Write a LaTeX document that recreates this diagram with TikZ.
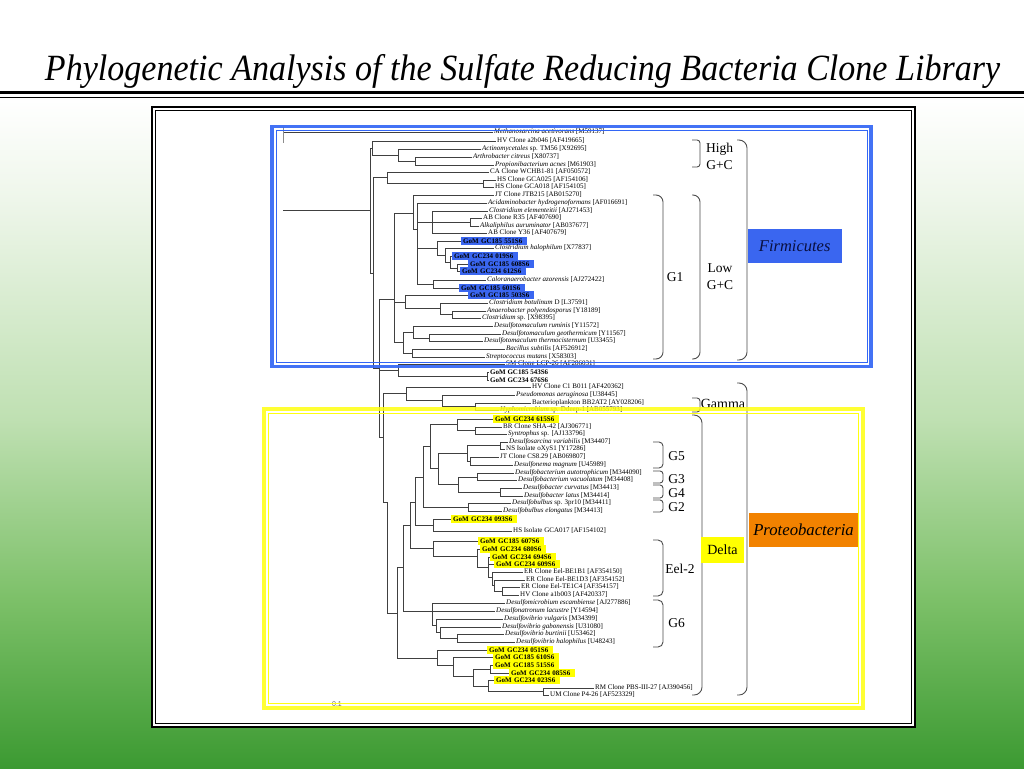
\documentclass[tikz,border=0pt]{standalone}
\usepackage{fontspec}
\usepackage{graphicx}
\setmainfont{Liberation Serif}
\setsansfont{Liberation Sans}
\usetikzlibrary{positioning}

\definecolor{bgA}{HTML}{EEF6EA}
\definecolor{bgB}{HTML}{BFE0B2}
\definecolor{bgC}{HTML}{7CC068}
\definecolor{bgbot}{HTML}{3C9A32}
\definecolor{rectblue}{HTML}{3366F5}
\definecolor{hlblue}{HTML}{3A66F0}
\definecolor{hlyellow}{HTML}{FFFF00}
\definecolor{rectyellow}{HTML}{FFFF10}
\definecolor{proorange}{HTML}{F28200}
\definecolor{navy}{HTML}{0A1040}

\pgfdeclareverticalshading{slidebg}{100bp}{color(0bp)=(bgbot); color(25bp)=(bgbot);
  color(35.9bp)=(bgC); color(47.7bp)=(bgB); color(62bp)=(bgA); color(68.5bp)=(white); color(100bp)=(white)}

\tikzset{
  branch/.style={draw=black!75, line width=0.5pt},
  leaf/.style={anchor=west, inner xsep=1pt, inner ysep=0.5pt, font=\fontsize{7}{8}\selectfont},
  gom/.style={leaf, font=\fontsize{7}{8}\selectfont\bfseries},
  gomblue/.style={gom, fill=hlblue, text width=62pt, inner xsep=2pt, inner ysep=0pt, minimum height=7.8pt},
  gomyel/.style={gom, fill=hlyellow, text width=62pt, inner xsep=2pt, inner ysep=0pt, minimum height=7.8pt},
  brk/.style={draw=black!70, line width=0.9pt},
  grp/.style={font=\fontsize{13.5}{16.5}\selectfont, align=center, inner sep=0pt},
}

\begin{document}
\begin{tikzpicture}[x=1pt,y=-1pt]
\useasboundingbox (0,0) rectangle (1024,768);
\shade[shading=slidebg] (0,0) rectangle (1024,768);

% title and rule
\node[font=\fontsize{37}{40}\selectfont\itshape, anchor=base, inner sep=0pt] (title) at (522.5,80)
  {\resizebox{955pt}{\height}{Phylogenetic Analysis of the Sulfate Reducing Bacteria Clone Library}};
\draw[line width=3pt] (0,92.5) -- (1024,92.5);
\draw[line width=1pt] (0,97) -- (1024,97);

% panel
\draw[line width=1.6pt, fill=white] (152,107) rectangle (915,727);
\draw[line width=0.5pt] (155.5,110.5) rectangle (911.5,723.5);

% leaves
\node[leaf] (l1) at (493,132) {\textit{Methanosarcina acetivorans} [M59137]};
\node[leaf] (l2) at (496,141) {HV Clone a2b046 [AF419665]};
\node[leaf] (l3) at (481,149) {\textit{Actinomycetales} sp. TM56 [X92695]};
\node[leaf] (l4) at (472,157) {\textit{Arthrobacter citreus} [X80737]};
\node[leaf] (l5) at (494,165) {\textit{Propionibacterium acnes} [M61903]};
\node[leaf] (l6) at (489,172) {CA Clone WCHB1-81 [AF050572]};
\node[leaf] (l7) at (496,180) {HS Clone GCA025 [AF154106]};
\node[leaf] (l8) at (494,187) {HS Clone GCA018 [AF154105]};
\node[leaf] (l9) at (494,195) {JT Clone JTB215 [AB015270]};
\node[leaf] (l10) at (487,203) {\textit{Acidaminobacter hydrogenoformans} [AF016691]};
\node[leaf] (l11) at (488,211) {\textit{Clostridium elementeitii} [AJ271453]};
\node[leaf] (l12) at (482,218) {AB Clone R35 [AF407690]};
\node[leaf] (l13) at (479,226) {\textit{Alkaliphilus auruminator} [AB037677]};
\node[leaf] (l14) at (487,233) {AB Clone Y36 [AF407679]};
\node[gomblue] (l15) at (461,241) {GoM GC185 551S6};
\node[leaf] (l16) at (494,248) {\textit{Clostridium halophilum} [X77837]};
\node[gomblue] (l17) at (452,256) {GoM GC234 019S6};
\node[gomblue] (l18) at (468,264) {GoM GC185 608S6};
\node[gomblue] (l19) at (460,271) {GoM GC234 612S6};
\node[leaf] (l20) at (486,280) {\textit{Caloranaerobacter azorensis} [AJ272422]};
\node[gomblue] (l21) at (459,288) {GoM GC185 601S6};
\node[gomblue] (l22) at (468,295) {GoM GC185 503S6};
\node[leaf] (l23) at (488,303) {\textit{Clostridium botulinum} D [L37591]};
\node[leaf] (l24) at (486,311) {\textit{Anaerobacter polyendosporus} [Y18189]};
\node[leaf] (l25) at (481,318) {\textit{Clostridium} sp. [X98395]};
\node[leaf] (l26) at (493,326) {\textit{Desulfotomaculum ruminis} [Y11572]};
\node[leaf] (l27) at (501,334) {\textit{Desulfotomaculum geothermicum} [Y11567]};
\node[leaf] (l28) at (483,341) {\textit{Desulfotomaculum thermocisternum} [U33455]};
\node[leaf] (l29) at (505,349) {\textit{Bacillus subtilis} [AF526912]};
\node[leaf] (l30) at (485,357) {\textit{Streptococcus mutans} [X58303]};
\node[leaf] (l31) at (505,364) {SM Clone LCP-26 [AF286031]};
\node[gom] (l32) at (489,372) {GoM GC185 543S6};
\node[gom] (l33) at (489,380) {GoM GC234 676S6};
\node[leaf] (l34) at (531,387) {HV Clone C1 B011 [AF420362]};
\node[leaf] (l35) at (515,395) {\textit{Pseudomonas aeruginosa} [U38445]};
\node[leaf] (l36) at (531,403) {Bacterioplankton BB2AT2 [AY028206]};
\node[leaf] (l37) at (499,410) {\textit{Hyphomicrobium} sp. Ddeep-1 [AB055793]};
\node[gomyel] (l38) at (493,419) {GoM GC234 615S6};
\node[leaf] (l39) at (502,427) {BR Clone SHA-42 [AJ306771]};
\node[leaf] (l40) at (507,434) {\textit{Syntrophus} sp. [AJ133796]};
\node[leaf] (l41) at (508,442) {\textit{Desulfosarcina variabilis} [M34407]};
\node[leaf] (l42) at (505,449) {NS Isolate oXyS1 [Y17286]};
\node[leaf] (l43) at (499,457) {JT Clone CS8.29 [AB069807]};
\node[leaf] (l44) at (513,465) {\textit{Desulfonema magnum} [U45989]};
\node[leaf] (l45) at (514,473) {\textit{Desulfobacterium autotrophicum} [M344090]};
\node[leaf] (l46) at (517,480) {\textit{Desulfobacterium vacuolatum} [M34408]};
\node[leaf] (l47) at (522,488) {\textit{Desulfobacter curvatus} [M34413]};
\node[leaf] (l48) at (523,496) {\textit{Desulfobacter latus} [M34414]};
\node[leaf] (l49) at (511,503) {\textit{Desulfobulbus} sp. 3pr10 [M34411]};
\node[leaf] (l50) at (502,511) {\textit{Desulfobulbus elongatus} [M34413]};
\node[gomyel] (l51) at (451,519) {GoM GC234 093S6};
\node[leaf] (l52) at (512,531) {HS Isolate GCA017 [AF154102]};
\node[gomyel] (l53) at (478,541) {GoM GC185 607S6};
\node[gomyel] (l54) at (480,549) {GoM GC234 680S6};
\node[gomyel] (l55) at (490,557) {GoM GC234 694S6};
\node[gomyel] (l56) at (494,564) {GoM GC234 609S6};
\node[leaf] (l57) at (523,572) {ER Clone Eel-BE1B1 [AF354150]};
\node[leaf] (l58) at (525,580) {ER Clone Eel-BE1D3 [AF354152]};
\node[leaf] (l59) at (520,587) {ER Clone Eel-TE1C4 [AF354157]};
\node[leaf] (l60) at (519,595) {HV Clone a1b003 [AF420337]};
\node[leaf] (l61) at (505,603) {\textit{Desulfomicrobium escambiense} [AJ277886]};
\node[leaf] (l62) at (495,611) {\textit{Desulfonatronum lacustre} [Y14594]};
\node[leaf] (l63) at (503,619) {\textit{Desulfovibrio vulgaris} [M34399]};
\node[leaf] (l64) at (501,627) {\textit{Desulfovibrio gabonensis} [U31080]};
\node[leaf] (l65) at (504,634) {\textit{Desulfovibrio burtinii} [U53462]};
\node[leaf] (l66) at (515,642) {\textit{Desulfovibrio halophilus} [U48243]};
\node[gomyel] (l67) at (487,650) {GoM GC234 051S6};
\node[gomyel] (l68) at (493,657) {GoM GC185 610S6};
\node[gomyel] (l69) at (493,665) {GoM GC185 515S6};
\node[gomyel] (l70) at (509,673) {GoM GC234 085S6};
\node[gomyel] (l71) at (494,680) {GoM GC234 023S6};
\node[leaf] (l72) at (594,688) {RM Clone PBS-III-27 [AJ390456]};
\node[leaf] (l73) at (549,695) {UM Clone P4-26 [AF523329]};

% inner nodes of the tree
\foreach \n/\x/\y in {root/283/210, out/283/132, tickt/283/127, tickb/283/143,
  R1/370/210, nC/372/148, nB/398/155, nA/415/161, R2/373/273, nE/387/177, nD/483/183,
  nZ/379/368, nR/394/299, nF/413/213, nG/417/229, nJ/432/222, nK/470/222,
  nM/437/248, nN/445/255, nO/450/262, nP/457/268, nQ/433/284,
  nS/405/302, nU/440/308, nV/452/314, nT/403/342, nW/413/332, nX/429/338, nY/412/353,
  nSM/398/370, nAA/487/376, nP1/383/437, nG1/406/393, nGg/442/400, nG3/475/406,
  nDel/387/502, nP4/397/613, nP3/403/567, nD6/410/525, nD5/415/502, nD4/423/477,
  nD3/430/446, nD1/457/424, nD2/475/430, nG35/438/468, nG5/467/453, nG5a/500/445,
  nG5b/470/461, nG34/458/484, nGB/477/477, nGC/500/492, nG2/468/507, nH1/433/525,
  nE6/433/548, nE5/477/556, nE4/488/567, nE3/492/577, nE2/494/585, nE1/502/591,
  nV4/432/611, nV3/436/625, nV2/440/632, nV1/457/638,
  nB6/437/658, nB5/453/665, nB4/473/676, nB3/490/669, nB2/488/686, nB1/543/691}
  \coordinate (\n) at (\x,\y);

% branches
\draw[branch] (root) -- (R1);
\draw[branch] (out) -- (l1);
\draw[branch, draw=black!45] (tickt) -- (tickb);
\foreach \a/\b in {R1/nC, R1/R2, nC/l2, nC/nB, nB/l3, nB/nA, nA/l4, nA/l5,
  R2/nE, R2/nZ, nE/l6, nE/nD, nD/l7, nD/l8,
  nZ/nR, nZ/nSM, nZ/nP1, nR/nF, nR/nS, nR/nT, nF/l9, nF/nG,
  nG/l10, nG/nJ, nG/nM, nG/nQ, nJ/l11, nJ/nK, nJ/l14, nK/l12, nK/l13,
  nM/l15, nM/nN, nN/l16, nN/nO, nO/l17, nO/nP, nP/l18, nP/l19, nQ/l20, nQ/l21,
  nS/l22, nS/nU, nU/l23, nU/nV, nV/l24, nV/l25,
  nT/nW, nT/nY, nW/l26, nW/nX, nX/l27, nX/l28, nY/l29, nY/l30,
  nSM/l31, nSM/nAA, nAA/l32, nAA/l33,
  nP1/nG1, nP1/nDel, nG1/l34, nG1/nGg, nGg/l35, nGg/nG3, nG3/l36, nG3/l37,
  nDel/nP4, nP4/nP3, nP4/nB6, nP3/nD6, nP3/nV4, nD6/nD5, nD6/nE6,
  nD5/nD4, nD5/nH1, nD4/nD3, nD4/nG2, nD3/nD1, nD3/nG35,
  nD1/l38, nD1/nD2, nD2/l39, nD2/l40,
  nG35/nG5, nG35/nG34, nG5/nG5a, nG5/nG5b, nG5a/l41, nG5a/l42, nG5b/l43, nG5b/l44,
  nG34/nGB, nG34/nGC, nGB/l45, nGB/l46, nGC/l47, nGC/l48, nG2/l49, nG2/l50,
  nH1/l51, nH1/l52, nE6/l53, nE6/nE5, nE5/l54, nE5/nE4, nE4/l55, nE4/l56, nE4/nE3,
  nE3/l57, nE3/nE2, nE2/l58, nE2/nE1, nE1/l59, nE1/l60,
  nV4/l61, nV4/l62, nV4/nV3, nV3/l63, nV3/nV2, nV2/l64, nV2/nV1, nV1/l65, nV1/l66,
  nB6/l67, nB6/nB5, nB5/l68, nB5/nB4, nB4/nB3, nB4/nB2, nB3/l69, nB3/l70,
  nB2/l71, nB2/nB1, nB1/l72, nB1/l73}
  \draw[branch] (\a) |- (\b);

\node[font=\sffamily\fontsize{7}{8}\selectfont, text=black!60] (scale) at (337,704) {0.1};

% group brackets
\foreach \xa/\xb/\ya/\yb/\r in {692/700/140/167/3pt, 737/747/140/360/8pt, 692/700/195/359/7pt,
  653/663/195/359/7pt, 692/700/398/412/3pt, 737/747/383/695/8pt, 692/702/415/695/8pt,
  653/663/442/468/4pt, 653/663/471/483/3pt, 653/663/485/498/3pt, 653/663/500/512/3pt,
  653/663/540/596/5pt, 653/663/600/647/5pt}
  \draw[brk, rounded corners=\r] (\xa,\ya) -| (\xb,{(\ya+\yb)/2}) |- (\xa,\yb);

\node[grp] (high) at (719.5,156.5) {High\\G+C};
\node[grp] (low) at (720,276.5) {Low\\G+C};
\node[grp] (g1) at (675,277) {G1};
\node[grp, font=\fontsize{14}{16}\selectfont] (gamma) at (723,404) {Gamma};
\node[grp] (g5) at (676.5,456) {G5};
\node[grp] (g3) at (676.5,479) {G3};
\node[grp] (g4) at (676.5,493) {G4};
\node[grp] (g2) at (676.5,507) {G2};
\node[grp] (eel) at (680,569) {Eel-2};
\node[grp] (g6) at (676.5,623) {G6};

% clone-group frames
\draw[rectblue, line width=3.5pt, opacity=0.92] (272,126.5) rectangle (871,366.5);
\draw[rectblue, line width=0.8pt] (276,130.5) rectangle (867,362.5);
\draw[rectyellow, line width=4pt, opacity=0.85] (264,409) rectangle (862.5,708);
\draw[rectyellow, line width=0.8pt] (268.5,413) rectangle (858,703.5);

\node[fill=hlblue, minimum width=94pt, minimum height=33.7pt, inner sep=0pt,
  font=\fontsize{16.5}{18}\selectfont\itshape, text=navy] (firm) at (794.7,245.8) {Firmicutes};
\node[fill=proorange, minimum width=109pt, minimum height=34pt, inner sep=0pt,
  font=\fontsize{16.7}{18}\selectfont\itshape] (proteo) at (803.5,530) {Proteobacteria};
\node[fill=hlyellow, minimum width=43pt, minimum height=26pt, inner sep=0pt,
  font=\fontsize{14}{16}\selectfont] (delta) at (722.5,550) {Delta};
\end{tikzpicture}
\end{document}
